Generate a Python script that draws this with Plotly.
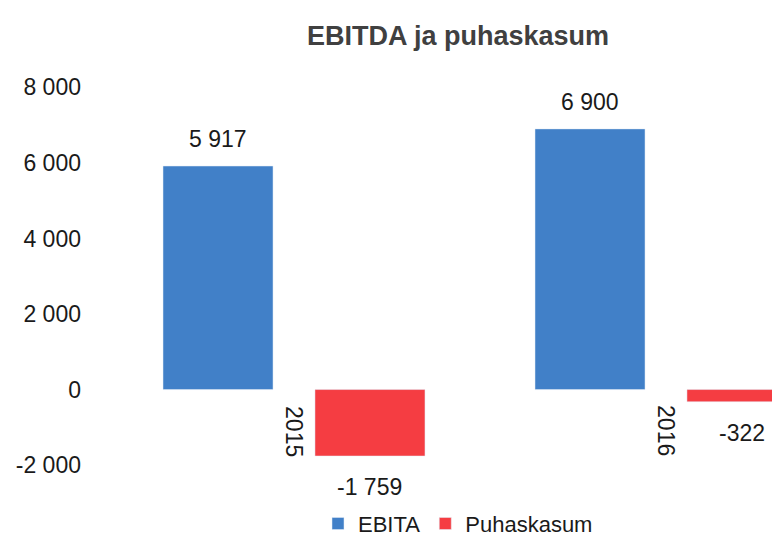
import plotly.graph_objects as go

categories = ["2015", "2016"]
ebita = [5917, 6900]
puhaskasum = [-1759, -322]
series_names = ["EBITA", "Puhaskasum"]
tick_vals = [-2000, 0, 2000, 4000, 6000, 8000]
tick_text = ["-2 000", "0", "2 000", "4 000", "6 000", "8 000"]
title_text = "EBITDA ja puhaskasum"

FONT = "Liberation Sans, Arial, sans-serif"
TXT = "#1a1a1a"

W, H = 780, 540
ML, MR, MT, MB = 100, 0, 68, 64
XR = [-0.5, 1.328]
BARGAP, GROUPGAP = 0.183, 0.276

pos = list(range(len(categories)))


def fmt(v):
    return f"{v:,}".replace(",", " ")


fig = go.Figure()
fig.add_trace(go.Bar(x=pos, y=ebita, name=series_names[0],
                     marker=dict(color="#4180c8")))
fig.add_trace(go.Bar(x=pos, y=puhaskasum, name=series_names[1],
                     marker=dict(color="#f53d42")))

# value labels placed from the axis scale
px_per_cat = (W - ML - MR) / (XR[1] - XR[0])
slot = px_per_cat * (1 - BARGAP) / 2
for si, vals in enumerate([ebita, puhaskasum]):
    for ci, v in enumerate(vals):
        fig.add_annotation(
            x=pos[ci], y=v, xref="x", yref="y", text=fmt(v), showarrow=False,
            xshift=(si - 0.5) * slot,
            yanchor="bottom" if v >= 0 else "top",
            yshift=12 if v >= 0 else -16,
            font=dict(size=23, color=TXT, family=FONT),
        )

# category labels next to the zero line
for ci, c in enumerate(categories):
    fig.add_annotation(
        x=pos[ci], y=0, xref="x", yref="y", text=c, textangle=90,
        showarrow=False, yanchor="top", xanchor="center", yshift=-14,
        font=dict(size=23, color=TXT, family=FONT),
    )

fig.update_layout(
    width=W, height=H,
    paper_bgcolor="white", plot_bgcolor="white",
    margin=dict(l=ML, r=MR, t=MT, b=MB, autoexpand=False),
    title=dict(text=f"<b>{title_text}</b>", x=450 / W, xref="container", xanchor="center",
               y=1 - 28 / H, yref="container", yanchor="middle",
               font=dict(size=27, color="#404040", family=FONT)),
    barmode="group", bargap=BARGAP, bargroupgap=GROUPGAP,
    showlegend=True,
    legend=dict(orientation="h", x=(450 - ML) / (W - ML - MR), xanchor="center",
                y=0.045, yref="container", yanchor="middle",
                font=dict(size=22, color=TXT, family=FONT),
                itemwidth=30, traceorder="normal"),
    font=dict(family=FONT),
)
fig.update_xaxes(range=XR, showticklabels=False, showgrid=False,
                 zeroline=False, showline=False, ticks="")
fig.update_yaxes(range=[-2500, 8300], tickvals=tick_vals, ticktext=tick_text,
                 showgrid=False, zeroline=False, showline=False,
                 ticklabelstandoff=26,
                 tickfont=dict(size=23, color=TXT, family=FONT))

fig.write_html("out.html")
